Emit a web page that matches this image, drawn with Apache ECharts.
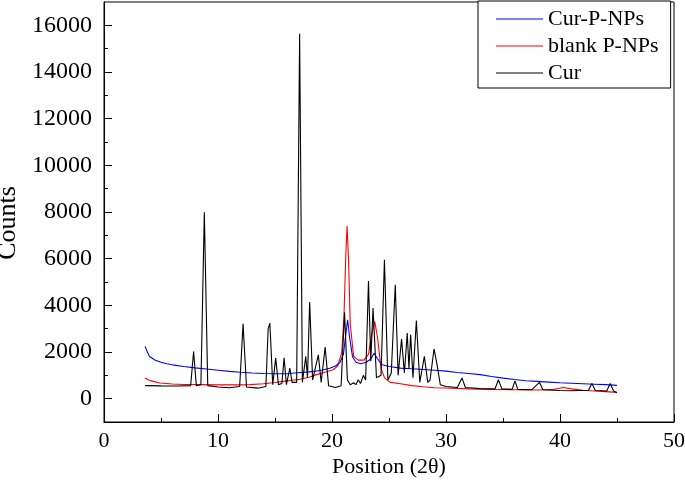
<!DOCTYPE html>
<html>
<head>
<meta charset="utf-8">
<script src="https://cdn.jsdelivr.net/npm/echarts@6/dist/echarts.min.js"></script>
<style>html,body{margin:0;padding:0;background:#fff}#c{width:685px;height:485px}</style>
</head>
<body>
<div id="c"></div>
<script>
const seriesNames = ['Cur-P-NPs', 'blank P-NPs', 'Cur'];
const xTicks = [0, 10, 20, 30, 40, 50];
const yTicks = [0, 2000, 4000, 6000, 8000, 10000, 12000, 14000, 16000];
const yMinorTicks = [1000, 3000, 5000, 7000, 9000, 11000, 13000, 15000];

const curPNPs = [[3.6,2240],[3.8,2000],[4.0,1810],[4.5,1650],[5.0,1560],[5.5,1500],[6,1450],[7,1380],[8,1320],[9,1270],[10,1220],[11,1170],[12,1130],[13,1100],[14,1080],[15,1065],[16,1070],[17,1110],[18,1150],[19,1210],[19.8,1300],[20.3,1400],[20.7,1550],[21.0,1900],[21.2,2700],[21.37,3380],[21.55,2600],[21.8,1800],[22.1,1560],[22.5,1500],[23.0,1560],[23.4,1700],[23.7,1950],[24.0,1700],[24.4,1450],[25,1380],[26,1310],[27,1280],[28,1250],[29,1220],[30,1180],[31,1120],[32,1080],[33,1030],[34,950],[35,880],[36,820],[37,770],[38,740],[39,710],[40,680],[41,660],[42,640],[43,620],[44,600],[45,570]];

const blankPNPs = [[3.6,885],[3.9,800],[4.3,740],[4.9,670],[6,630],[7,610],[8.4,600],[10,590],[12,590],[12.8,600],[14,640],[15,690],[15.7,740],[16.5,790],[17.2,830],[18,920],[18.65,1030],[19.3,1120],[20.1,1240],[20.5,1400],[20.85,1960],[21.05,3500],[21.2,6000],[21.32,7400],[21.45,6000],[21.6,3200],[21.9,1810],[22.3,1650],[22.8,1650],[23.2,1900],[23.5,2800],[23.75,3300],[24.0,2600],[24.3,1300],[24.6,900],[25.1,700],[26,640],[27,560],[28,510],[29,470],[30,460],[32,420],[34,400],[36,385],[38,370],[39.5,400],[40.3,480],[41,420],[42,360],[43,330],[44,300],[45,270]];

const cur = [[3.6,560],[5,550],[6.5,540],[7.6,560],[7.86,2020],[8.1,560],[8.5,600],[8.8,7990],[9.1,560],[10,500],[11,470],[11.9,520],[12.2,3210],[12.5,500],[13.5,450],[14.2,520],[14.4,3000],[14.55,3240],[14.8,600],[15.06,1740],[15.3,600],[15.6,650],[15.8,1750],[16.0,600],[16.3,1310],[16.5,700],[16.9,700],[17.16,15640],[17.4,700],[17.7,1810],[17.85,900],[18.04,4140],[18.3,800],[18.8,1880],[19.05,700],[19.4,2210],[19.7,550],[20.3,480],[20.8,550],[21.1,3700],[21.35,800],[21.6,600],[21.9,680],[22.1,600],[22.3,810],[22.5,650],[22.75,1000],[22.95,800],[23.2,5040],[23.4,1600],[23.6,3880],[23.9,900],[24.3,1000],[24.6,5950],[24.9,800],[25.2,1100],[25.55,4880],[25.8,1000],[26.1,2550],[26.35,1100],[26.6,2810],[26.75,1300],[26.9,2750],[27.1,900],[27.4,3350],[27.7,700],[28.1,1810],[28.4,700],[28.6,800],[28.95,2130],[29.2,1500],[29.5,600],[30,520],[31.0,480],[31.4,890],[31.7,480],[33,430],[34.3,420],[34.6,810],[34.9,420],[35.8,400],[36.05,760],[36.3,400],[37.5,380],[38.2,700],[38.5,380],[40,350],[41,340],[42.5,360],[42.8,650],[43.1,350],[44.1,330],[44.4,650],[44.7,330],[45,250]];

const FONT = 'Liberation Serif';
const chart = echarts.init(document.getElementById('c'), null, {renderer: 'canvas'});
const mkSeries = (name, data, color, z) => ({
  name, type: 'line', data, symbol: 'none', showSymbol: false, z,
  lineStyle: {color, width: 1.1}, itemStyle: {color}, animation: false
});
chart.setOption({
  animation: false,
  backgroundColor: '#fff',
  grid: {left: 104, top: 2, right: 11, bottom: 63, show: true, borderColor: '#000', borderWidth: 1,
         backgroundColor: 'transparent', containLabel: false, outerBoundsMode: 'none'},
  legend: {
    left: 478, top: 1, orient: 'vertical',
    data: seriesNames.map(n => ({name: n, icon: 'rect'})),
    backgroundColor: '#fff', borderColor: '#000', borderWidth: 1,
    padding: [7, 12, 4, 18],
    itemWidth: 47, itemHeight: 1, itemGap: 5,
    textStyle: {fontFamily: FONT, fontSize: 22, color: '#000', lineHeight: 22},
    z: 10
  },
  xAxis: {
    type: 'value', min: xTicks[0], max: xTicks[xTicks.length - 1], interval: 10,
    name: 'Position (2θ)', nameLocation: 'middle', nameGap: 34, nameMoveOverlap: false,
    nameTextStyle: {fontFamily: FONT, fontSize: 22, color: '#000'},
    axisLine: {show: true, onZero: false, lineStyle: {color: '#000', width: 1}},
    axisTick: {show: true, inside: true, length: 8, lineStyle: {color: '#000'}},
    minorTick: {show: true, splitNumber: 2, length: 4, lineStyle: {color: '#000'}},
    splitLine: {show: false},
    axisLabel: {fontFamily: FONT, fontSize: 22, color: '#000', margin: 8, showMaxLabel: true, showMinLabel: true,
                formatter: v => String(v)}
  },
  yAxis: [{
    type: 'value', min: -1000, max: 17000,
    name: 'Counts', nameLocation: 'middle', nameGap: 83, nameMoveOverlap: false,
    nameTextStyle: {fontFamily: FONT, fontSize: 26, color: '#000', padding: [0, 22, 0, 0]},
    axisLine: {show: true, onZero: false, lineStyle: {color: '#000', width: 1}},
    axisTick: {show: true, inside: true, length: 8, customValues: yTicks, lineStyle: {color: '#000'}},
    splitLine: {show: false},
    axisLabel: {fontFamily: FONT, fontSize: 24, color: '#000', margin: 12, customValues: yTicks,
                formatter: v => String(v)}
  }, {
    type: 'value', min: -1000, max: 17000, position: 'left', offset: 0,
    axisLine: {show: false, onZero: false},
    axisTick: {show: true, inside: true, length: 4, customValues: yMinorTicks, lineStyle: {color: '#000'}},
    splitLine: {show: false},
    axisLabel: {show: false, customValues: yMinorTicks}
  }],
  series: [
    mkSeries(seriesNames[0], curPNPs, '#0000ff', 3),
    mkSeries(seriesNames[1], blankPNPs, '#ff0000', 2),
    mkSeries(seriesNames[2], cur, '#000000', 4)
  ]
});
</script>
</body>
</html>
